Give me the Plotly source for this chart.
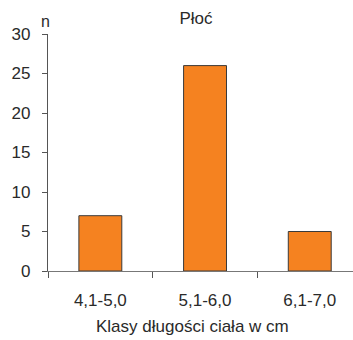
import plotly.graph_objects as go

categories = ["4,1-5,0", "5,1-6,0", "6,1-7,0"]
values = [7, 26, 5]
y_ticks = [0, 5, 10, 15, 20, 25, 30]
title_text = "Płoć"
x_title = "Klasy długości ciała w cm"
y_title = "n"

W, H = 353, 340
L, R, T, B = 48, 0, 34, 69
pw = W - L - R
ph = H - T - B

FONT = "Liberation Sans, Arial, sans-serif"
TXT = "#2a2a2a"

fig = go.Figure()
fig.add_trace(go.Bar(
    x=categories, y=values, width=0.41,
    marker=dict(color="#F58220", line=dict(color="#3a3a3a", width=1)),
))

fig.update_layout(
    width=W, height=H,
    margin=dict(l=L, r=R, t=T, b=B, pad=0),
    paper_bgcolor="white", plot_bgcolor="white",
    showlegend=False,
    font=dict(family=FONT, size=17, color=TXT),
    title=dict(text=title_text, x=196 / W, xanchor="center",
               y=1 - 18 / H, yanchor="middle", yref="container",
               font=dict(size=17, color=TXT)),
)
fig.update_xaxes(
    type="category", range=[-0.5, -0.5 + pw / 104.7],
    showline=True, linecolor="#777777", linewidth=1.3,
    ticks="outside", tickson="boundaries", ticklen=6, tickcolor="#555555", tickwidth=1,
    showgrid=False, zeroline=False,
    tickfont=dict(size=17, color=TXT), ticklabelstandoff=13,
)
fig.update_yaxes(
    range=[0, 30], tickvals=y_ticks,
    showline=True, linecolor="#555555", linewidth=1.3,
    ticks="outside", ticklen=5, tickcolor="#555555", tickwidth=1,
    showgrid=False, zeroline=False,
    tickfont=dict(size=17, color=TXT), ticklabelstandoff=8,
)
fig.add_annotation(text=y_title, xref="paper", yref="paper",
                   x=(45.5 - L) / pw, y=(H - B - 22) / ph,
                   xanchor="center", yanchor="middle", showarrow=False,
                   font=dict(size=16, color=TXT))
fig.add_annotation(text=x_title, xref="paper", yref="paper",
                   x=(192 - L) / pw, y=(H - B - 326) / ph,
                   xanchor="center", yanchor="middle", showarrow=False,
                   font=dict(size=17, color=TXT))
fig.write_html("out.html")
